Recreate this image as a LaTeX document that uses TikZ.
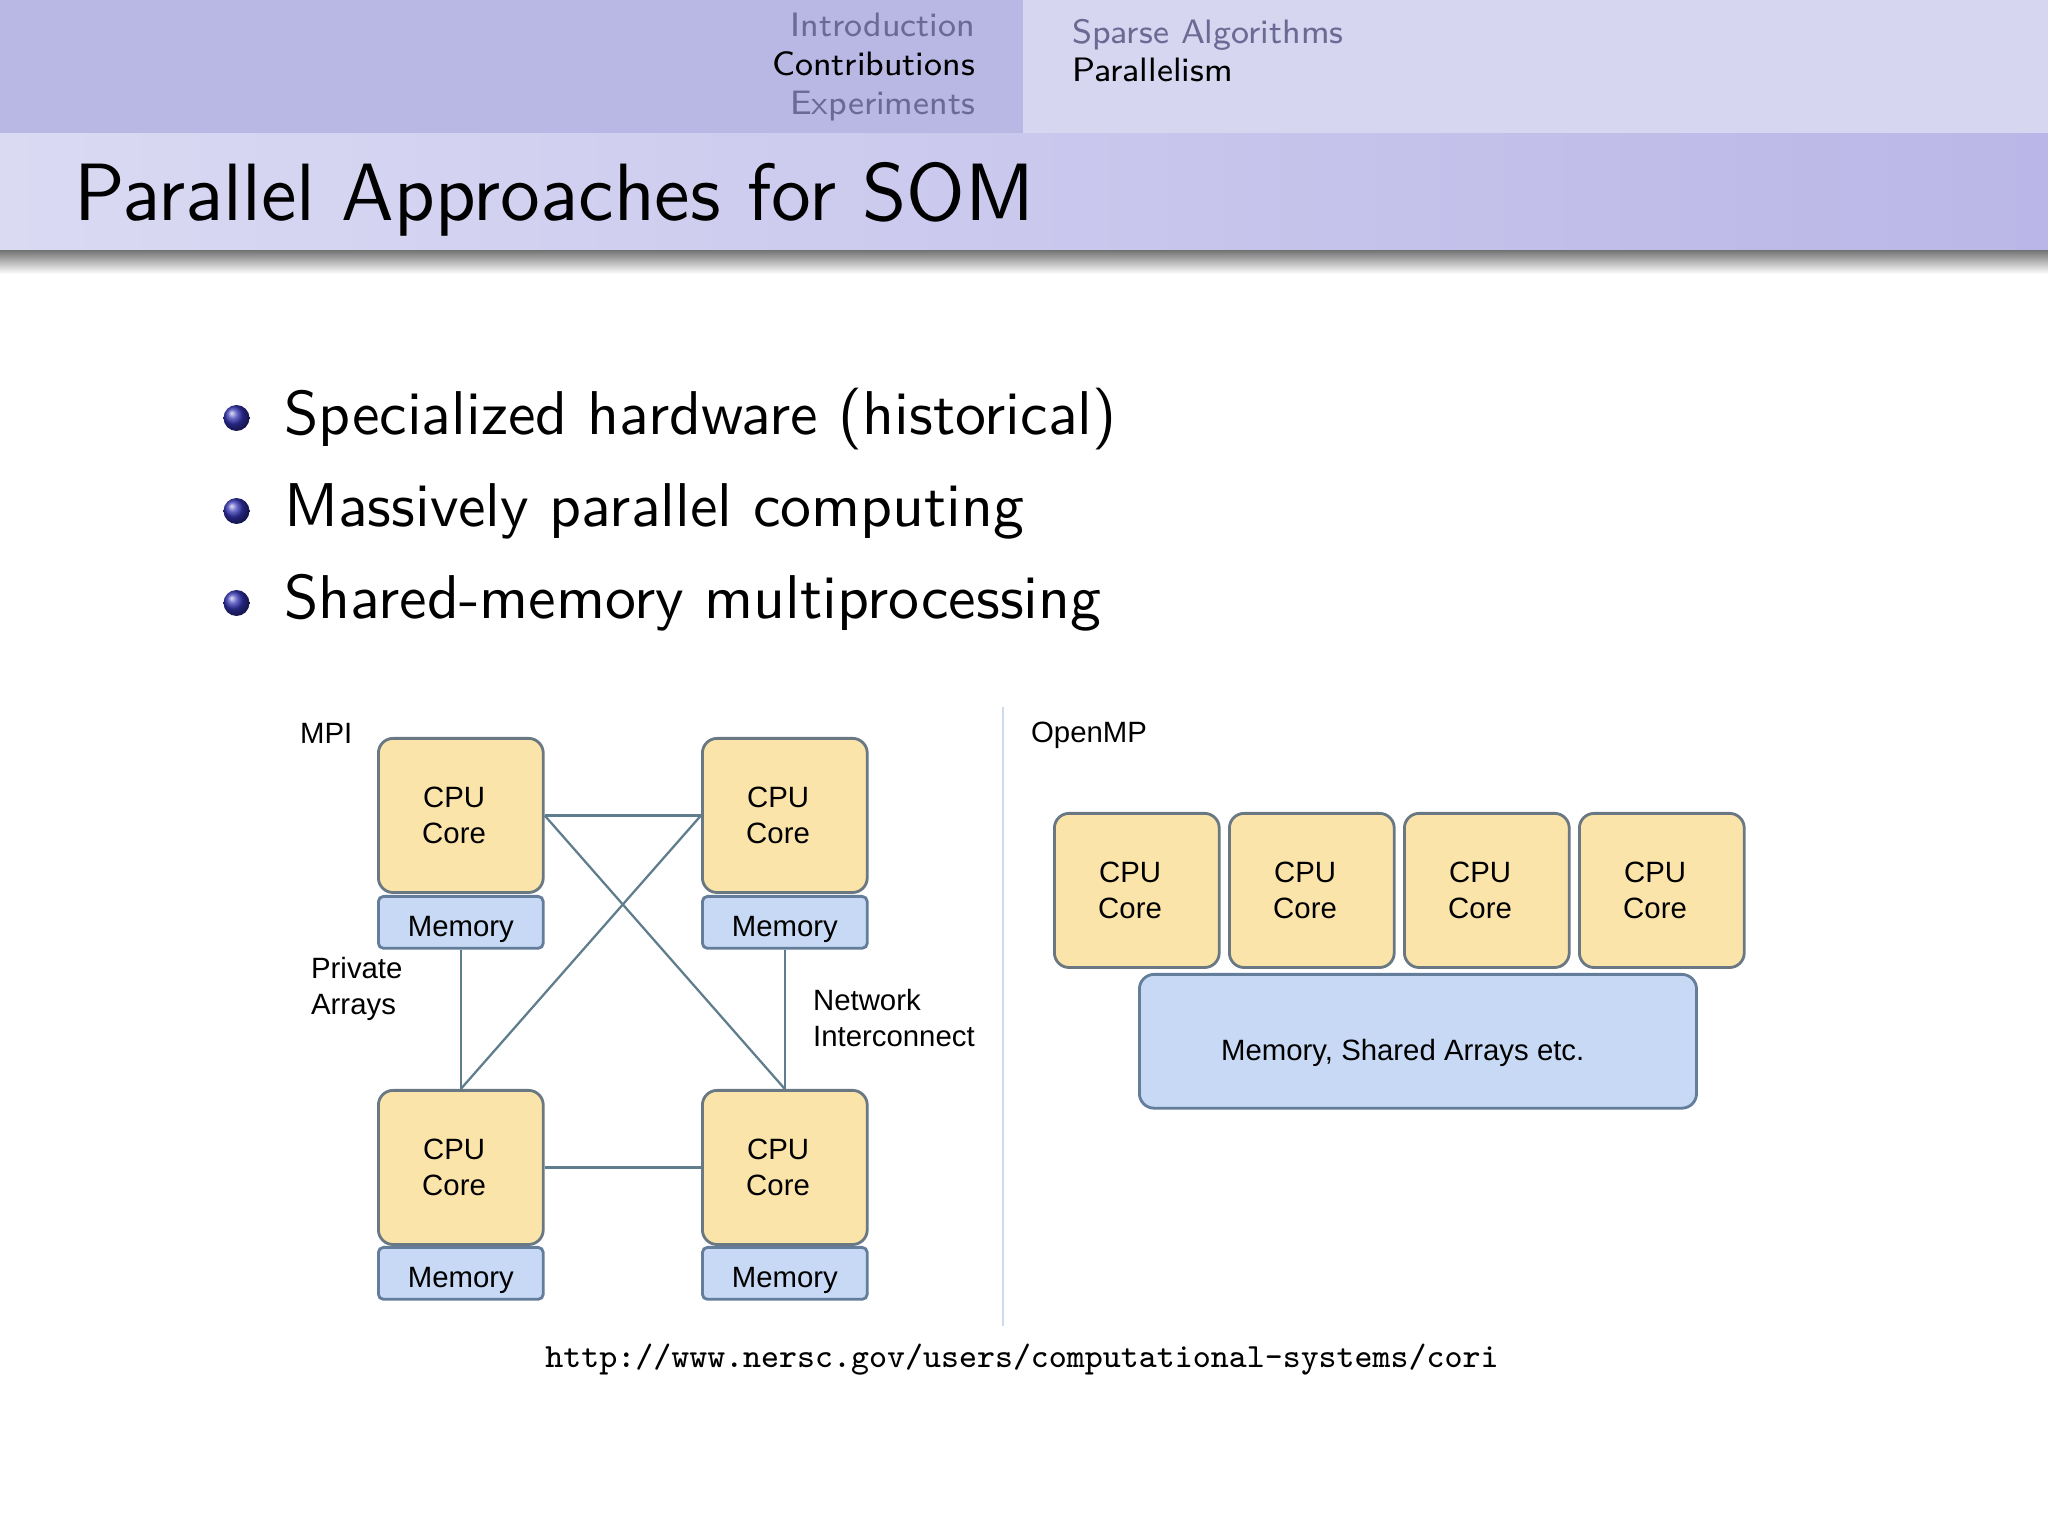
\documentclass[tikz,border=0pt]{standalone}
\usepackage{fontspec}
\newfontfamily\diagfont{Liberation Sans}
\definecolor{hdrL}{RGB}{185,184,228}
\definecolor{hdrR}{RGB}{214,214,240}
\definecolor{ttlL}{RGB}{218,218,243}
\definecolor{ttlR}{RGB}{186,182,231}
\definecolor{inact}{RGB}{108,106,148}
\definecolor{cpufill}{RGB}{251,228,170}
\definecolor{cpudraw}{RGB}{105,120,130}
\definecolor{memfill}{RGB}{199,217,244}
\definecolor{memdraw}{RGB}{100,125,155}
\definecolor{linkc}{RGB}{95,125,140}
\definecolor{sepc}{RGB}{205,218,235}
\definecolor{ballc}{rgb}{0.2,0.2,0.7}
\newcommand\cpucore{CPU\hspace*{2.4pt}\\Core\hspace*{2.4pt}}
\begin{document}
\begin{tikzpicture}[x=0.17715pt,y=-0.17715pt,
  hdr/.style={inner sep=0pt,font=\sffamily\fontsize{6}{7}\selectfont},
  body/.style={inner sep=0pt,font=\sffamily\fontsize{10.95}{13}\selectfont},
  dtext/.style={inner sep=0pt,align=left,font=\diagfont\fontsize{5.2}{6.3}\selectfont,text=black},
  cpu/.style={draw=cpudraw,fill=cpufill,line width=0.5pt,rounded corners=2.6pt,
    minimum width=29.2pt,minimum height=27.3pt,inner sep=0pt,anchor=north west,align=center,
    font=\diagfont\fontsize{5.2}{6.4}\selectfont,text=black},
  mem/.style={draw=memdraw,fill=memfill,line width=0.5pt,rounded corners=0.9pt,
    minimum width=29.2pt,minimum height=9.2pt,inner sep=0pt,anchor=north west,
    text height=5pt,text depth=0pt,
    font=\diagfont\fontsize{5.2}{5.9}\selectfont,text=black},
  linkl/.style={draw=linkc,line width=0.4pt}]
\useasboundingbox (0,0) rectangle (2048,1536);
\fill[white] (0,0) rectangle (2048,1536);
% header
\fill[hdrL] (0,0) rectangle (1023,134);
\fill[hdrR] (1023,0) rectangle (2048,134);
\shade[left color=ttlL,right color=ttlR] (0,134) rectangle (2048,251);
\shade[top color={rgb,255:red,120;green,120;blue,120},bottom color=white] (0,251) rectangle (2048,274);
\node[hdr,anchor=base east,text=inact] (s1) at (976,36.5) {Introduction};
\node[hdr,anchor=base east,text=black] (s2) at (976,75.5) {Contributions};
\node[hdr,anchor=base east,text=inact] (s3) at (976,114.5) {Experiments};
\node[hdr,anchor=base west,text=inact] (ss1) at (1071,43.5) {Sparse Algorithms};
\node[hdr,anchor=base west,text=black] (ss2) at (1071,82) {Parallelism};
% title
\node[inner sep=0pt,anchor=base west,font=\sffamily\fontsize{14.4}{17}\selectfont] (title) at (73,221) {Parallel Approaches for SOM};
% bullets
\shade[ball color=ballc] (236.5,418) circle (2.3pt);
\shade[ball color=ballc] (236.5,511) circle (2.3pt);
\shade[ball color=ballc] (236.5,603) circle (2.3pt);
\node[body,anchor=base west] (b1) at (283,435) {Specialized hardware (historical)};
\node[body,anchor=base west] (b2) at (283,527) {Massively parallel computing};
\node[body,anchor=base west] (b3) at (283,619) {Shared-memory multiprocessing};
% MPI diagram
\node[dtext,anchor=west] (mpi) at (299,733) {MPI};
\node[cpu] (tl) at (377,737) {\cpucore};
\node[cpu] (tr) at (701,737) {\cpucore};
\node[cpu] (bl) at (377,1089) {\cpucore};
\node[cpu] (br) at (701,1089) {\cpucore};
\node[mem] (tlm) at (377,895) {Memory};
\node[mem] (trm) at (701,895) {Memory};
\node[mem] (blm) at (377,1246) {Memory};
\node[mem] (brm) at (701,1246) {Memory};
\draw[linkl] (tl.east) -- (tr.west);
\draw[linkl] (tl.east) -- (br.north);
\draw[linkl] (tr.west) -- (bl.north);
\draw[linkl] (tlm.south) -- (bl.north);
\draw[linkl] (trm.south) -- (br.north);
\draw[linkl] (bl.east) -- (br.west);
\node[dtext,anchor=west] (priv) at (310,989) {Private\\Arrays};
\node[dtext,anchor=west] (net) at (812,1018) {Network\\Interconnect};
% separator
\coordinate (sa) at (1003,707);
\coordinate (sb) at (1003,1326);
\draw[sepc,line width=0.35pt] (sa) -- (sb);
% OpenMP diagram
\node[dtext,anchor=west] (omp) at (1030,735) {OpenMP};
\node[cpu] (c1) at (1053,812) {\cpucore};
\node[cpu] (c2) at (1228,812) {\cpucore};
\node[cpu] (c3) at (1403,812) {\cpucore};
\node[cpu] (c4) at (1578,812) {\cpucore};
\node[mem,rounded corners=2.6pt,minimum width=98.7pt,minimum height=23.7pt,text height=6.8pt,text depth=0pt] (sh) at (1138,973) {Memory, Shared Arrays etc.\hspace*{5.4pt}};
% url
\node[inner sep=0pt,font=\ttfamily\fontsize{6}{7}\selectfont] (url) at (1022,1360) {http://www.nersc.gov/users/computational-systems/cori};
\end{tikzpicture}
\end{document}
